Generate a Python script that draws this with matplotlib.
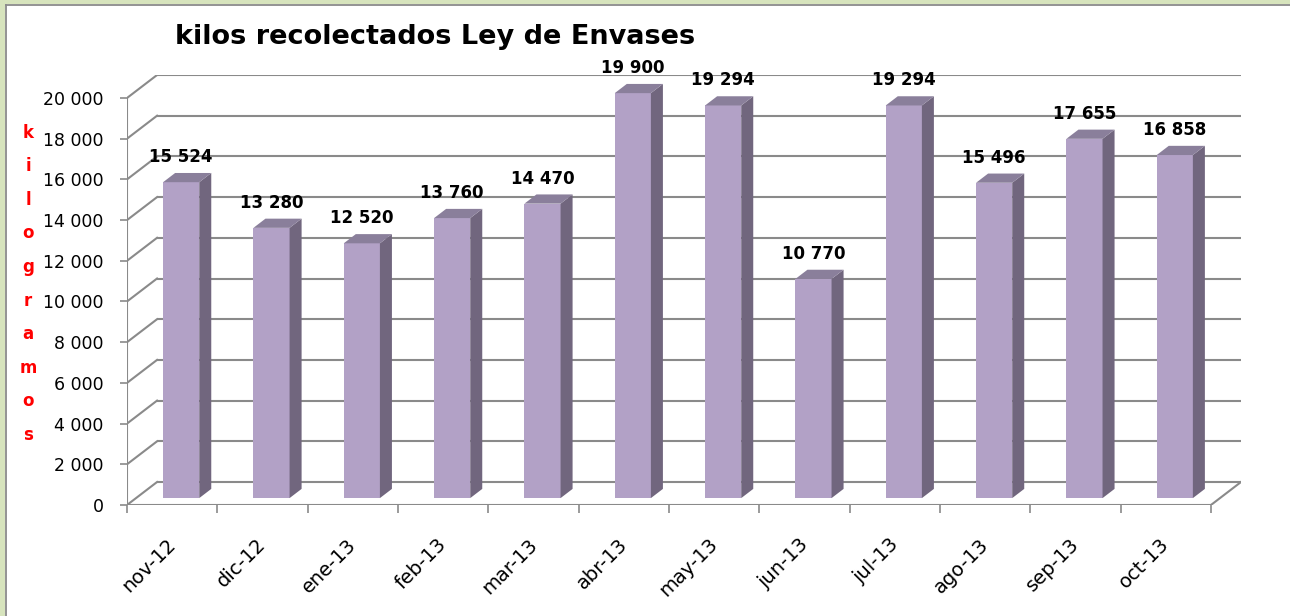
import matplotlib
matplotlib.use("Agg")
import matplotlib.pyplot as plt
from matplotlib.patches import Polygon, Rectangle
from matplotlib.lines import Line2D

# ---- data ----
categories = ["nov-12", "dic-12", "ene-13", "feb-13", "mar-13", "abr-13",
              "may-13", "jun-13", "jul-13", "ago-13", "sep-13", "oct-13"]
values = [15524, 13280, 12520, 13760, 14470, 19900,
          19294, 10770, 19294, 15496, 17655, 16858]
title = "kilos recolectados Ley de Envases"
ylabel = "kilogramos"
yticks = list(range(0, 20001, 2000))

# ---- style ----
W, H, DPI = 1290, 616, 100
FRONT = "#b2a1c6"
SIDE = "#71667e"
TOP = "#8a7f9b"
GRID = "#8a8a8a"
FONT = "DejaVu Sans"

n = len(categories)
ymax = 20000
D = 0.3327      # depth shift in category units
DV = 1130.0     # depth shift in value units
d0, d1 = 0.3, 0.7
bw = 0.4

fig = plt.figure(figsize=(W / DPI, H / DPI), dpi=DPI, facecolor="white")

# frame border
fig.patches.append(Rectangle((0, 0), 5 / W, 1, transform=fig.transFigure,
                             facecolor="#d7e4bd", edgecolor="none", zorder=0))
fig.patches.append(Rectangle((0, 1 - 4 / H), 1, 4 / H, transform=fig.transFigure,
                             facecolor="#d7e4bd", edgecolor="none", zorder=0))
fig.lines.append(Line2D([5.5 / W, 5.5 / W], [0, 1 - 4.5 / H], transform=fig.transFigure,
                        color=GRID, lw=1.3))
fig.lines.append(Line2D([5.5 / W, 1], [1 - 4.5 / H, 1 - 4.5 / H], transform=fig.transFigure,
                        color=GRID, lw=1.3))

L, R, B, T = 127, 1241, 505, 75
ax = fig.add_axes([L / W, (H - B) / H, (R - L) / W, (B - T) / H])
ax.set_xlim(0, n + D)
ax.set_ylim(0, ymax + DV)
ax.set_facecolor("none")
for s in ax.spines.values():
    s.set_visible(False)

glw = 1.5
# back wall grid + side wall diagonals
for v in yticks:
    ax.plot([D, n + D], [v + DV, v + DV], color=GRID, lw=glw, zorder=1,
            solid_capstyle="butt")
    ax.plot([0, D], [v, v + DV], color=GRID, lw=glw, zorder=1)
# front axes / floor
ax.plot([0, 0], [0, ymax], color=GRID, lw=glw, zorder=1)
ax.plot([0, n], [0, 0], color=GRID, lw=glw, zorder=1)
ax.plot([n, n + D], [0, DV], color=GRID, lw=glw, zorder=1)

# bars
for i, v in enumerate(values):
    x0 = i + 0.5 - bw / 2 + d0 * D
    x1 = x0 + bw
    yb = d0 * DV
    yt = yb + v
    ddx = (d1 - d0) * D
    ddy = (d1 - d0) * DV
    ax.add_patch(Polygon([(x0, yb), (x1, yb), (x1, yt), (x0, yt)], closed=True,
                         facecolor=FRONT, edgecolor="none", zorder=3))
    ax.add_patch(Polygon([(x1, yb), (x1 + ddx, yb + ddy), (x1 + ddx, yt + ddy), (x1, yt)],
                         closed=True, facecolor=SIDE, edgecolor="none", zorder=3))
    ax.add_patch(Polygon([(x0, yt), (x1, yt), (x1 + ddx, yt + ddy), (x0 + ddx, yt + ddy)],
                         closed=True, facecolor=TOP, edgecolor="none", zorder=3))
    ax.annotate(f"{v:,}".replace(",", " "), xy=((x0 + x1) / 2, yt), xytext=(0, 18),
                textcoords="offset points", ha="center", va="center",
                fontsize=12, fontweight="bold", family=FONT, color="black", zorder=5)

# y ticks
ax.set_yticks(yticks)
ax.set_yticklabels([f"{t:,}".replace(",", " ") for t in yticks])
ax.tick_params(axis="y", direction="out", length=5, width=1.2, color=GRID,
               pad=12, labelsize=12.5, labelcolor="black")
# x ticks
ax.set_xticks(range(n + 1))
ax.set_xticklabels([])
ax.tick_params(axis="x", direction="out", length=5.8, width=1.2, color=GRID)
for i, c in enumerate(categories):
    ax.annotate(c, xy=(i + 0.5, 0), xytext=(0.4, -26.3), textcoords="offset points",
                rotation=45, ha="right", va="center", rotation_mode="anchor",
                fontsize=14, family=FONT, color="black")
for lab in ax.get_yticklabels():
    lab.set_family(FONT)

# title
fig.text(175 / W, 1 - 44 / H, title, ha="left", va="baseline",
         fontsize=19.5, fontweight="bold", family=FONT, color="black")

# vertical stacked y label
for k, ch in enumerate(ylabel):
    fig.text(28 / W, 1 - (137.6 + k * 33.6) / H, ch, ha="center", va="baseline",
             fontsize=12, fontweight="bold", family=FONT, color="red")

fig.savefig("out.png", dpi=DPI, facecolor="white")
